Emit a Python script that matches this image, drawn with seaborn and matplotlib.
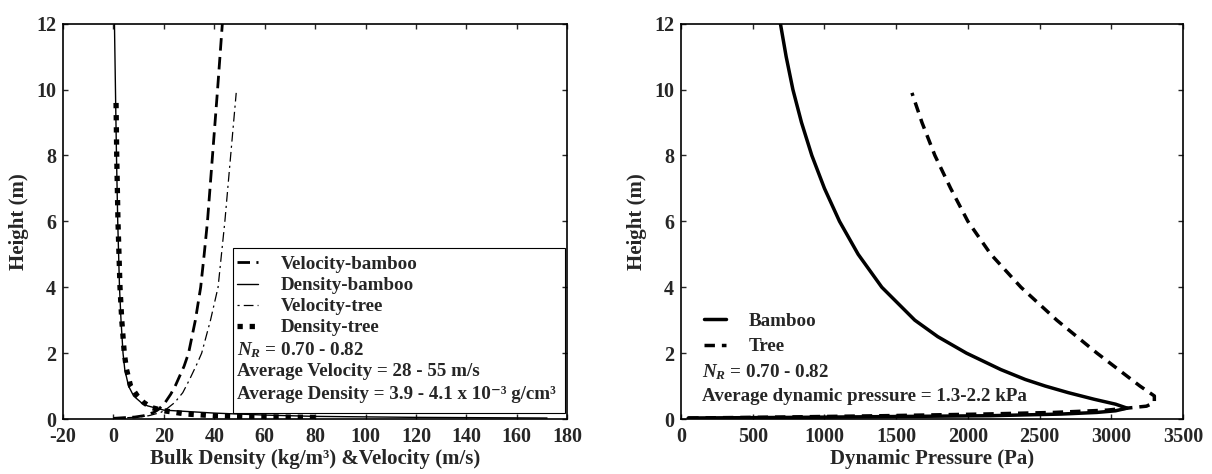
import numpy as np
import pandas as pd
import seaborn as sns
import matplotlib.pyplot as plt
from matplotlib.lines import Line2D
from matplotlib.patches import Rectangle

# ---- data (height in m) ----
vel_bamboo_h = [0.02, 0.04, 0.06, 0.1, 0.2, 0.3, 0.5, 0.75, 1.0, 1.6, 2, 3, 4, 5, 6, 8, 10, 12]
vel_bamboo = [0, 4, 8.5, 12, 16, 18, 20.5, 22.7, 24.5, 28, 29.8, 32.5, 34.6, 36, 37.3, 39.3, 41.3, 43.2]

den_bamboo_h = [0.03, 0.05, 0.08, 0.12, 0.18, 0.27, 0.4, 0.5, 0.7, 1.0, 1.5, 2, 3, 4, 6, 8, 10, 12]
den_bamboo = [172, 120, 80, 60, 40, 20, 13.5, 11, 8, 6, 4.5, 3.8, 3, 2.4, 1.7, 1.2, 0.8, 0.4]

vel_tree_h = [0.03, 0.06, 0.1, 0.2, 0.3, 0.5, 0.8, 1.2, 1.7, 2, 3, 4, 6, 8, 9.9]
vel_tree = [3, 10, 14, 18.8, 21, 24.3, 27.5, 30.2, 33.3, 35, 38.5, 41.5, 44.2, 46.5, 48.7]

den_tree_h = [0.05, 0.07, 0.1, 0.15, 0.25, 0.35, 0.5, 0.7, 1.0, 1.5, 2, 3, 4, 6, 8, 9.8]
den_tree = [80, 55, 40, 29, 20, 15, 12, 9.5, 6.8, 5.2, 4.3, 3.3, 2.6, 1.8, 1.3, 1.0]

pres_bamboo_h = [0.03, 0.05, 0.1, 0.15, 0.2, 0.25, 0.33, 0.45, 0.6, 0.8, 1.0, 1.2, 1.5, 2, 2.5,
                 3, 4, 5, 6, 7, 8, 9, 10, 11, 12]
pres_bamboo = [50, 800, 2150, 2650, 2900, 3030, 3110, 3030, 2880, 2700, 2540, 2400, 2230, 1990, 1790,
               1630, 1400, 1235, 1105, 1000, 912, 840, 780, 733, 693]

pres_tree_h = [0.03, 0.06, 0.1, 0.15, 0.2, 0.27, 0.33, 0.39, 0.5, 0.7, 1.0, 1.5, 2, 3, 4, 5,
               6, 7, 8, 9, 9.9]
pres_tree = [50, 700, 1400, 2100, 2600, 2970, 3110, 3245, 3300, 3300, 3200, 3050, 2900, 2620, 2370, 2160,
             2000, 1880, 1770, 1680, 1610]

sns.set_style("ticks")
plt.rcParams["font.family"] = ["Liberation Serif", "DejaVu Serif"]
plt.rcParams["axes.unicode_minus"] = False
plt.rcParams["mathtext.fontset"] = "custom"
plt.rcParams["mathtext.rm"] = "Liberation Serif:bold"
plt.rcParams["mathtext.it"] = "Liberation Serif:italic:bold"
plt.rcParams["mathtext.bf"] = "Liberation Serif:bold"

fig = plt.figure(figsize=(12.12, 4.74), dpi=100)
ax1 = fig.add_axes([0.052, 0.116, 0.416, 0.834])
ax2 = fig.add_axes([0.5619, 0.116, 0.4142, 0.834])


def profile(ax, x, h, **kw):
    df = pd.DataFrame({"x": x, "h": h})
    sns.lineplot(data=df, x="x", y="h", sort=False, estimator=None, ax=ax,
                 color="black", legend=False, **kw)
    return ax.lines[-1]


VB_DASH = (4.5, 2.3)
VT_DASH = (1.7, 3.3, 7.8, 3.3)
DT_DASH = (1, 1.3)
PT_DASH = (3, 2)

l_vb = profile(ax1, vel_bamboo, vel_bamboo_h, lw=2.0)
l_vb.set_dashes(VB_DASH)
l_db = profile(ax1, den_bamboo, den_bamboo_h, lw=1.0)
l_vt = profile(ax1, vel_tree, vel_tree_h, lw=0.9)
l_vt.set_dashes(VT_DASH)
l_dt = profile(ax1, den_tree, den_tree_h, lw=3.8)
l_dt.set_dashes(DT_DASH)
l_dt.set_dash_capstyle("butt")

l_pb = profile(ax2, pres_bamboo, pres_bamboo_h, lw=2.5)
l_pt = profile(ax2, pres_tree, pres_tree_h, lw=2.5)
l_pt.set_dashes(PT_DASH)

for ax, xlim, xticks, xlabel in [
    (ax1, (-20, 180), np.arange(-20, 181, 20), "Bulk Density (kg/m³) &Velocity (m/s)"),
    (ax2, (0, 3500), np.arange(0, 3501, 500), "Dynamic Pressure (Pa)"),
]:
    ax.set_xlim(*xlim)
    ax.set_ylim(0, 12)
    ax.set_xticks(xticks)
    ax.set_yticks(np.arange(0, 13, 2))
    ax.tick_params(direction="in", top=True, right=True, length=3.6, width=1,
                   labelsize=14.5)
    ax.tick_params(axis="x", pad=6)
    ax.tick_params(axis="y", pad=5)
    for lab in ax.get_xticklabels() + ax.get_yticklabels():
        lab.set_fontweight("bold")
    for s in ax.spines.values():
        s.set_linewidth(1.2)
        s.set_color("black")
    ax.set_xlabel(xlabel, fontsize=15, fontweight="bold", labelpad=1)
    ax.set_ylabel("Height (m)", fontsize=15, fontweight="bold", labelpad=5)

FS = 13.7

# ---- left legend with box ----
h_vb = Line2D([], [], color="black", lw=2.0, dashes=VB_DASH)
h_db = Line2D([], [], color="black", lw=1.0)
h_vt = Line2D([], [], color="black", lw=0.9, dashes=VT_DASH)
h_dt = Line2D([], [], color="black", lw=3.8, dashes=DT_DASH, dash_capstyle="butt")
ax1.legend([h_vb, h_db, h_vt, h_dt],
           ["Velocity-bamboo", "Density-bamboo", "Velocity-tree", "Density-tree"],
           loc="upper left", bbox_to_anchor=(0.345, 0.413), frameon=False,
           prop={"size": FS, "weight": "bold"}, handlelength=1.1, handletextpad=1.2,
           labelspacing=0.2, borderpad=0, borderaxespad=0)
ax1.add_patch(Rectangle((0.337, 0.015), 0.659, 0.417, transform=ax1.transAxes,
                        fill=False, edgecolor="black", lw=0.8, zorder=5))
txt1 = [r"$N_R$ = 0.70 - 0.82",
        "Average Velocity = 28 - 55 m/s",
        "Average Density = 3.9 - 4.1 x 10⁻³ g/cm³"]
for t, y in zip(txt1, [0.174, 0.119, 0.061]):
    ax1.text(0.345, y, t, transform=ax1.transAxes, fontsize=FS,
             fontweight="bold", va="center", ha="left")

# ---- right legend ----
h_pb = Line2D([], [], color="black", lw=2.5)
h_pt = Line2D([], [], color="black", lw=2.5, dashes=PT_DASH)
ax2.legend([h_pb, h_pt], ["Bamboo", "Tree"], loc="upper left",
           bbox_to_anchor=(0.046, 0.27), frameon=False,
           prop={"size": FS, "weight": "bold"}, handlelength=1.15,
           handletextpad=1.2, labelspacing=0.45, borderpad=0, borderaxespad=0)
txt2 = [r"$N_R$ = 0.70 - 0.82", "Average dynamic pressure = 1.3-2.2 kPa"]
for t, y in zip(txt2, [0.119, 0.056]):
    ax2.text(0.042, y, t, transform=ax2.transAxes, fontsize=FS,
             fontweight="bold", va="center", ha="left")

fig.savefig("out.png", dpi=100)
